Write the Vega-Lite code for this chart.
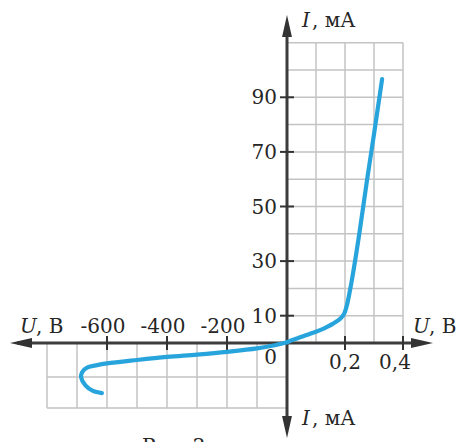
{
  "$schema": "https://vega.github.io/schema/vega-lite/v6.json",
  "width": 459,
  "height": 442,
  "padding": 0,
  "autosize": {"type": "none"},
  "background": "white",
  "config": {
    "view": {"stroke": null},
    "text": {"font": "DejaVu Serif", "fontSize": 20, "fill": "#262626"}
  },
  "datasets": {
    "grid": [
      {"u": 0.1, "i": 0, "u2": 0.1, "i2": 110},
      {"u": 0.2, "i": 0, "u2": 0.2, "i2": 110},
      {"u": 0.3, "i": 0, "u2": 0.3, "i2": 110},
      {"u": 0.4, "i": 0, "u2": 0.4, "i2": 110},
      {"u": 0, "i": 10, "u2": 0.4, "i2": 10},
      {"u": 0, "i": 20, "u2": 0.4, "i2": 20},
      {"u": 0, "i": 30, "u2": 0.4, "i2": 30},
      {"u": 0, "i": 40, "u2": 0.4, "i2": 40},
      {"u": 0, "i": 50, "u2": 0.4, "i2": 50},
      {"u": 0, "i": 60, "u2": 0.4, "i2": 60},
      {"u": 0, "i": 70, "u2": 0.4, "i2": 70},
      {"u": 0, "i": 80, "u2": 0.4, "i2": 80},
      {"u": 0, "i": 90, "u2": 0.4, "i2": 90},
      {"u": 0, "i": 100, "u2": 0.4, "i2": 100},
      {"u": 0, "i": 110, "u2": 0.4, "i2": 110},
      {"u": -800, "i": 0, "u2": -800, "i2": -2},
      {"u": -700, "i": 0, "u2": -700, "i2": -2},
      {"u": -600, "i": 0, "u2": -600, "i2": -2},
      {"u": -500, "i": 0, "u2": -500, "i2": -2},
      {"u": -400, "i": 0, "u2": -400, "i2": -2},
      {"u": -300, "i": 0, "u2": -300, "i2": -2},
      {"u": -200, "i": 0, "u2": -200, "i2": -2},
      {"u": -100, "i": 0, "u2": -100, "i2": -2},
      {"u": -800, "i": -1, "u2": 0, "i2": -1},
      {"u": -800, "i": -2, "u2": 0, "i2": -2}
    ],
    "axes": [
      {"u": -900, "i": 0, "u2": 0.47, "i2": 0},
      {"u": 0, "i": -2.6, "u2": 0, "i2": 116}
    ],
    "arrows": [
      {"u": 0, "i": 116.1, "dir": "up"},
      {"u": 0, "i": -2.61, "dir": "down"},
      {"u": -886.7, "i": 0, "dir": "left"},
      {"u": 0.4655, "i": 0, "dir": "right"}
    ],
    "curveNeg": [
      {"n": 1, "u": -617, "i": -1.52},
      {"n": 2, "u": -647, "i": -1.45},
      {"n": 3, "u": -672, "i": -1.27},
      {"n": 4, "u": -686, "i": -1.02},
      {"n": 5, "u": -683, "i": -0.86},
      {"n": 6, "u": -665, "i": -0.72},
      {"n": 7, "u": -633, "i": -0.65},
      {"n": 8, "u": -600, "i": -0.6},
      {"n": 9, "u": -500, "i": -0.5},
      {"n": 10, "u": -400, "i": -0.41},
      {"n": 11, "u": -300, "i": -0.34},
      {"n": 12, "u": -200, "i": -0.26},
      {"n": 13, "u": -100, "i": -0.16},
      {"n": 14, "u": -50, "i": -0.08},
      {"n": 15, "u": 0, "i": 0.3}
    ],
    "curvePos": [
      {"u": 0, "i": 0.3},
      {"u": 0.045, "i": 2.1},
      {"u": 0.08, "i": 3.4},
      {"u": 0.114, "i": 4.7},
      {"u": 0.14, "i": 6.0},
      {"u": 0.159, "i": 7.1},
      {"u": 0.175, "i": 8.2},
      {"u": 0.189, "i": 9.5},
      {"u": 0.199, "i": 11.2},
      {"u": 0.207, "i": 14},
      {"u": 0.214, "i": 17.5},
      {"u": 0.222, "i": 22},
      {"u": 0.25, "i": 40.5},
      {"u": 0.276, "i": 59.7},
      {"u": 0.3, "i": 76.5},
      {"u": 0.328, "i": 96.7}
    ],
    "xticks": [
      {"u": -600, "i": 0},
      {"u": -400, "i": 0},
      {"u": -200, "i": 0},
      {"u": 0.2, "i": 0},
      {"u": 0.4, "i": 0}
    ],
    "yticks": [
      {"u": 0, "i": 10},
      {"u": 0, "i": 30},
      {"u": 0, "i": 50},
      {"u": 0, "i": 70},
      {"u": 0, "i": 90}
    ],
    "ylabels": [
      {"u": 0, "i": 10, "t": "10"},
      {"u": 0, "i": 30, "t": "30"},
      {"u": 0, "i": 50, "t": "50"},
      {"u": 0, "i": 70, "t": "70"},
      {"u": 0, "i": 90, "t": "90"}
    ],
    "zero": [{"u": 0, "i": 0, "t": "0"}],
    "xneglabels": [
      {"u": -600, "i": 0, "t": "-600"},
      {"u": -400, "i": 0, "t": "-400"},
      {"u": -200, "i": 0, "t": "-200"}
    ],
    "xpos2": [{"u": 0.2, "i": 0, "t": "0,2"}],
    "xpos4": [{"u": 0.4, "i": 0, "t": "0,4"}],
    "italicI": [
      {"u": 0, "i": 115.7, "t": "I"},
      {"u": 0, "i": -2.55, "t": "I"}
    ],
    "unitI": [
      {"u": 0, "i": 115.7, "t": ", мА"},
      {"u": 0, "i": -2.55, "t": ", мА"}
    ],
    "italicUright": [{"u": 0.4, "i": 0, "t": "U"}],
    "unitUright": [{"u": 0.4, "i": 0, "t": ", В"}],
    "italicUleft": [{"u": -800, "i": 0, "t": "U"}],
    "unitUleft": [{"u": -800, "i": 0, "t": ", В"}],
    "caption": [{"u": -483, "i": -3.44, "t": "Рис. 2"}]
  },
  "encoding": {
    "x": {
      "field": "u",
      "type": "quantitative",
      "scale": {"domain": [-800, 0, 0.4], "range": [47, 287, 403], "zero": false, "nice": false},
      "axis": null
    },
    "y": {
      "field": "i",
      "type": "quantitative",
      "scale": {"domain": [-2, -1, 0, 110], "range": [408, 377, 343, 42.7], "zero": false, "nice": false},
      "axis": null
    }
  },
  "layer": [
    {
      "data": {"name": "grid"},
      "mark": {"type": "rule", "color": "#c3c3c3", "strokeWidth": 1.5},
      "encoding": {"x2": {"field": "u2"}, "y2": {"field": "i2"}}
    },
    {
      "data": {"name": "axes"},
      "mark": {"type": "rule", "color": "#3c3c3c", "strokeWidth": 3},
      "encoding": {"x2": {"field": "u2"}, "y2": {"field": "i2"}}
    },
    {
      "data": {"name": "arrows"},
      "mark": {"type": "point", "filled": true, "size": 484, "color": "#333333", "opacity": 1, "strokeWidth": 0},
      "encoding": {
        "shape": {
          "field": "dir",
          "type": "nominal",
          "scale": {
            "domain": ["up", "down", "left", "right"],
            "range": ["M0,-1L0.45,1L-0.45,1Z", "M0,1L0.45,-1L-0.45,-1Z", "M-1,0L1,-0.45L1,0.45Z", "M1,0L-1,-0.45L-1,0.45Z"]
          },
          "legend": null
        }
      }
    },
    {
      "data": {"name": "xticks"},
      "mark": {"type": "tick", "orient": "vertical", "size": 14, "thickness": 2, "color": "#333333", "opacity": 1}
    },
    {
      "data": {"name": "yticks"},
      "mark": {"type": "tick", "orient": "horizontal", "size": 14, "thickness": 2, "color": "#333333", "opacity": 1}
    },
    {
      "data": {"name": "curveNeg"},
      "mark": {"type": "line", "color": "#27a4dc", "strokeWidth": 4.2, "interpolate": "catmull-rom", "strokeCap": "round"},
      "encoding": {"order": {"field": "n", "type": "quantitative"}}
    },
    {
      "data": {"name": "curvePos"},
      "mark": {"type": "line", "color": "#27a4dc", "strokeWidth": 4.2, "interpolate": "monotone", "strokeCap": "round"}
    },
    {
      "data": {"name": "ylabels"},
      "mark": {"type": "text", "align": "right", "baseline": "middle", "dx": -10, "dy": 1},
      "encoding": {"text": {"field": "t"}}
    },
    {
      "data": {"name": "zero"},
      "mark": {"type": "text", "align": "right", "baseline": "middle", "dx": -10, "dy": 15},
      "encoding": {"text": {"field": "t"}}
    },
    {
      "data": {"name": "xneglabels"},
      "mark": {"type": "text", "align": "center", "baseline": "alphabetic", "dx": -4, "dy": -10},
      "encoding": {"text": {"field": "t"}}
    },
    {
      "data": {"name": "xpos2"},
      "mark": {"type": "text", "align": "center", "baseline": "alphabetic", "dx": 0, "dy": 26},
      "encoding": {"text": {"field": "t"}}
    },
    {
      "data": {"name": "xpos4"},
      "mark": {"type": "text", "align": "center", "baseline": "alphabetic", "dx": -8, "dy": 26},
      "encoding": {"text": {"field": "t"}}
    },
    {
      "data": {"name": "italicI"},
      "mark": {"type": "text", "align": "left", "baseline": "alphabetic", "dx": 15, "fontStyle": "italic"},
      "encoding": {"text": {"field": "t"}}
    },
    {
      "data": {"name": "unitI"},
      "mark": {"type": "text", "align": "left", "baseline": "alphabetic", "dx": 25},
      "encoding": {"text": {"field": "t"}}
    },
    {
      "data": {"name": "italicUright"},
      "mark": {"type": "text", "align": "left", "baseline": "alphabetic", "dx": 10, "dy": -10, "fontStyle": "italic"},
      "encoding": {"text": {"field": "t"}}
    },
    {
      "data": {"name": "unitUright"},
      "mark": {"type": "text", "align": "left", "baseline": "alphabetic", "dx": 26, "dy": -10},
      "encoding": {"text": {"field": "t"}}
    },
    {
      "data": {"name": "italicUleft"},
      "mark": {"type": "text", "align": "left", "baseline": "alphabetic", "dx": -27, "dy": -10, "fontStyle": "italic"},
      "encoding": {"text": {"field": "t"}}
    },
    {
      "data": {"name": "unitUleft"},
      "mark": {"type": "text", "align": "left", "baseline": "alphabetic", "dx": -11, "dy": -10},
      "encoding": {"text": {"field": "t"}}
    },
    {
      "data": {"name": "caption"},
      "mark": {"type": "text", "align": "left", "baseline": "alphabetic"},
      "encoding": {"text": {"field": "t"}}
    }
  ]
}
